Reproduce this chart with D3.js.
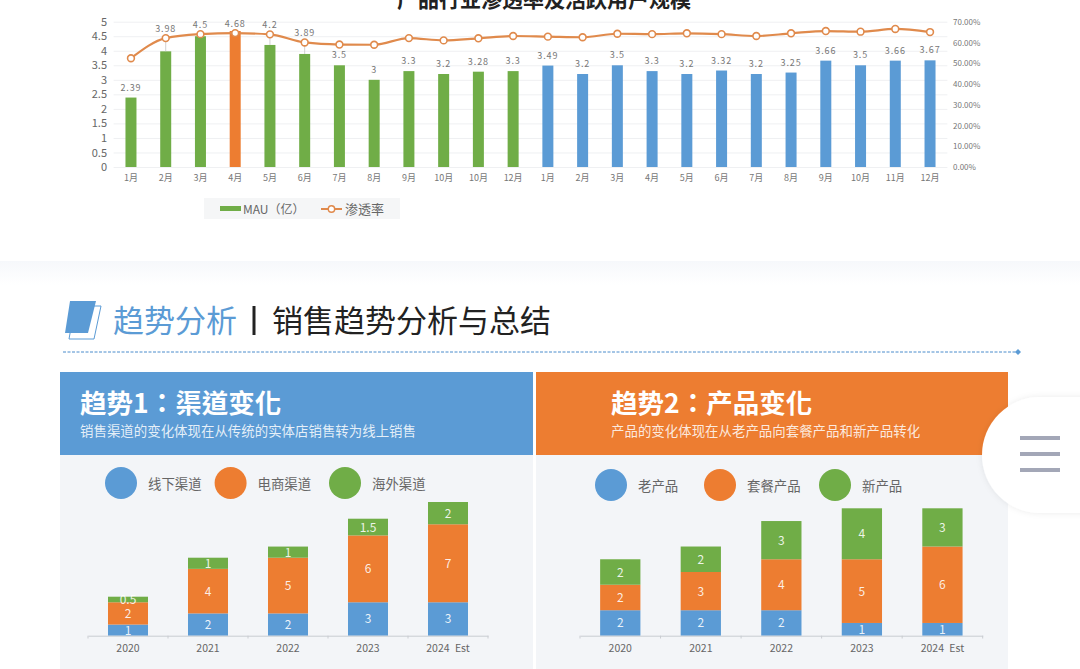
<!DOCTYPE html>
<html>
<head>
<meta charset="utf-8">
<script src="https://cdn.jsdelivr.net/npm/d3@7"></script>
<style>
  html, body { margin: 0; padding: 0; background: #fff; overflow: hidden; }
  svg { display: block; }
  text { font-family: "Noto Sans CJK SC", "Noto Sans", sans-serif; }
  .small-label { fill: #777; font-size: 9px; }
  .grid line { stroke: #eff0f2; }
  .grid path { display: none; }
</style>
</head>
<body>
<div id="chart"></div>
<script>
// top chart data
const months = ['1月','2月','3月','4月','5月','6月','7月','8月','9月','10月','10月','12月',
                '1月','2月','3月','4月','5月','6月','7月','8月','9月','10月','11月','12月'];
const mau = [2.39,3.98,4.5,4.68,4.2,3.89,3.5,3,3.3,3.2,3.28,3.3,
             3.49,3.2,3.5,3.3,3.2,3.32,3.2,3.25,3.66,3.5,3.66,3.67];
const penetration = [52.4,62.1,64,64.5,63.9,60,59,58.9,62.1,61,62,63.1,
                     62.8,62.5,64.2,64,64.4,64,63.1,64.4,65.5,65.2,66.5,65];
const leftTicks = [0,0.5,1,1.5,2,2.5,3,3.5,4,4.5,5];
const rightTicks = [0,10,20,30,40,50,60,70];

// stacked panels
const years = ['2020','2021','2022','2023','2024 Est'];
const offline = [1,2,2,3,3];
const ecommerce = [2,4,5,6,7];
const overseas = [0.5,1,1,1.5,2];
const oldProduct = [2,2,2,1,1];
const bundle = [2,3,4,5,6];
const newProduct = [2,2,3,4,3];

const BLUE = '#5b9bd5', ORANGE = '#ed7d31', GREEN = '#70ad47';

const svg = d3.select('#chart').append('svg').attr('width', 1080).attr('height', 669);

// faint band where the next section starts
const defs = svg.append('defs');
const fade = defs.append('linearGradient').attr('id', 'fade').attr('x2', 0).attr('y2', 1);
fade.append('stop').attr('offset', 0).attr('stop-color', '#f6f8fb');
fade.append('stop').attr('offset', 1).attr('stop-color', '#fff');
svg.append('rect').attr('y', 261).attr('width', 1080).attr('height', 24).attr('fill', 'url(#fade)');

// ---- top chart ----
const top0 = 167, top1 = 21.7;
const x = d3.scaleBand().domain(d3.range(months.length)).range([113.6, 947.4]);
const yLeft = d3.scaleLinear().domain([0, 5]).range([top0, top1]);
const yRight = d3.scaleLinear().domain([0, 70]).range([top0, top1]);
const xMid = i => x(i) + x.bandwidth() / 2;

svg.append('text')
  .attr('x', 544).attr('y', 7)
  .attr('text-anchor', 'middle')
  .attr('font-size', 21).attr('font-weight', 700).attr('fill', '#222')
  .text('产品行业渗透率及活跃用户规模');

svg.append('g').attr('class', 'grid')
  .attr('transform', 'translate(113.6,0)')
  .call(d3.axisLeft(yLeft).tickValues(leftTicks).tickSize(-833.8).tickFormat(''));

const leftAxis = svg.append('g')
  .attr('transform', 'translate(107,0)')
  .call(d3.axisLeft(yLeft).tickValues(leftTicks).tickSize(0).tickPadding(0).tickFormat(d3.format('~g')));
leftAxis.select('.domain').remove();
leftAxis.selectAll('text').attr('fill', '#666').attr('font-size', 11);

const rightAxis = svg.append('g')
  .attr('transform', 'translate(953,0)')
  .call(d3.axisRight(yRight).tickValues(rightTicks).tickSize(0).tickPadding(0).tickFormat(d => d.toFixed(2) + '%'));
rightAxis.select('.domain').remove();
rightAxis.selectAll('text').attr('fill', '#777').attr('font-size', 8);

const monthAxis = svg.append('g')
  .attr('transform', `translate(0,${top0})`)
  .call(d3.axisBottom(x).tickSize(0).tickPadding(8).tickFormat(i => months[i]));
monthAxis.select('.domain').remove();
monthAxis.selectAll('text').attr('class', 'small-label');

// green for the first year, April highlighted, blue for the second year
const barColor = i => i === 3 ? ORANGE : i < 12 ? GREEN : BLUE;
const barW = 11;

svg.append('g').selectAll('rect').data(mau).join('rect')
  .attr('x', (d, i) => xMid(i) - barW / 2)
  .attr('y', d => yLeft(d))
  .attr('width', barW)
  .attr('height', d => top0 - yLeft(d))
  .attr('fill', (d, i) => barColor(i));

// labels that would sit under the line get pushed above it, with a leader
const isLifted = i => yLeft(mau[i]) - 15 < yRight(penetration[i]) + 3;
const labelY = i => isLifted(i) ? yRight(penetration[i]) - 6 : yLeft(mau[i]) - 7;
const leaders = d3.range(mau.length).filter(i => isLifted(i) && yLeft(mau[i]) - yRight(penetration[i]) > 6);

svg.append('g').selectAll('line').data(leaders).join('line')
  .attr('x1', xMid).attr('x2', xMid)
  .attr('y1', i => yRight(penetration[i]))
  .attr('y2', i => yLeft(mau[i]))
  .attr('stroke', '#c4c4c4').attr('stroke-width', 0.8);

svg.append('path')
  .datum(penetration)
  .attr('fill', 'none').attr('stroke', '#e08a4c').attr('stroke-width', 2.2)
  .attr('d', d3.line().x((d, i) => xMid(i)).y(d => yRight(d)).curve(d3.curveMonotoneX));

svg.append('g').selectAll('circle').data(penetration).join('circle')
  .attr('cx', (d, i) => xMid(i)).attr('cy', d => yRight(d)).attr('r', 3.4)
  .attr('fill', '#fff').attr('stroke', '#e08a4c').attr('stroke-width', 1.6);

svg.append('g').selectAll('text').data(mau).join('text')
  .attr('class', 'small-label')
  .attr('x', (d, i) => xMid(i))
  .attr('y', (d, i) => labelY(i))
  .attr('text-anchor', 'middle')
  .attr('letter-spacing', 0.9)
  .text(d => d);

// legend of the top chart
svg.append('rect').attr('x', 204).attr('y', 198).attr('width', 196).attr('height', 21).attr('fill', '#f5f6f7');
svg.append('rect').attr('x', 220).attr('y', 206).attr('width', 21).attr('height', 5).attr('fill', GREEN);
svg.append('text').attr('x', 243).attr('y', 214).attr('font-size', 12).attr('fill', '#666').text('MAU（亿）');
svg.append('line').attr('x1', 321).attr('x2', 342).attr('y1', 209).attr('y2', 209).attr('stroke', '#e08a4c').attr('stroke-width', 2);
svg.append('circle').attr('cx', 331.5).attr('cy', 209).attr('r', 3.2).attr('fill', '#fff').attr('stroke', '#e08a4c').attr('stroke-width', 1.4);
svg.append('text').attr('x', 345).attr('y', 214).attr('font-size', 13).attr('fill', '#666').text('渗透率');

// ---- section heading ----
svg.append('path').attr('d', 'M75,306 H101 L94,339 H69 Z').attr('fill', '#fff').attr('stroke', BLUE).attr('stroke-width', 1);
svg.append('path').attr('d', 'M70,301 H96 L88,333 H65 Z').attr('fill', BLUE);
svg.append('text').attr('x', 113).attr('y', 332).attr('font-size', 31).attr('fill', BLUE).text('趋势分析');
svg.append('rect').attr('x', 252.5).attr('y', 306).attr('width', 3).attr('height', 29).attr('fill', '#222');
svg.append('text').attr('x', 272).attr('y', 332).attr('font-size', 31).attr('fill', '#222').text('销售趋势分析与总结');
svg.append('line').attr('x1', 63).attr('x2', 1018).attr('y1', 352).attr('y2', 352)
  .attr('stroke', '#4a8ccc').attr('stroke-width', 1).attr('stroke-dasharray', '3 1.5');
svg.append('path').attr('d', 'M1018,349 L1021,352 L1018,355 L1015,352 Z').attr('fill', BLUE);

// ---- two stacked panels ----
function drawPanel(p) {
  const g = svg.append('g');
  g.append('rect').attr('x', p.left).attr('y', 455).attr('width', p.width).attr('height', 214).attr('fill', '#f3f5f8');
  g.append('rect').attr('x', p.left).attr('y', 372).attr('width', p.width).attr('height', 83).attr('fill', p.headColor);
  // the TC face centres the colon in its cell, as the reference does
  g.append('text').attr('x', p.textX).attr('y', 413).attr('font-size', 26.5).attr('font-weight', 700)
    .style('font-family', '"Noto Sans CJK TC"').attr('fill', '#fff').text(p.title);
  g.append('text').attr('x', p.textX).attr('y', 436).attr('font-size', 13.45).attr('fill', '#fff').attr('fill-opacity', .85).text(p.subtitle);

  // legend circles
  const colors = [BLUE, ORANGE, GREEN];
  p.names.forEach((name, i) => {
    g.append('circle').attr('cx', p.legendX[i]).attr('cy', p.legendY).attr('r', 16).attr('fill', colors[i]);
    g.append('text').attr('x', p.legendX[i] + 27).attr('y', p.legendY + 5.5)
      .attr('font-size', 13.4).attr('fill', '#666').text(name);
  });

  const band = d3.scaleBand().domain(years).range(p.xRange);
  const y = d3.scaleLinear().domain([0, p.max]).range([635.7, p.topY]);
  const table = years.map((yr, i) => ({ year: yr, a: p.series[0][i], b: p.series[1][i], c: p.series[2][i] }));
  const stack = d3.stack().keys(['a', 'b', 'c'])(table);
  const barWidth = band.step() / 2;

  const layers = g.selectAll('.layer').data(stack).join('g').attr('class', 'layer');
  layers.append('g').selectAll('rect').data(d => d).join('rect')
    .attr('x', d => band(d.data.year) + (band.step() - barWidth) / 2)
    .attr('y', d => y(d[1]))
    .attr('width', barWidth)
    .attr('height', d => y(d[0]) - y(d[1]))
    .attr('fill', function () { return colors[stack.indexOf(d3.select(this.parentNode).datum())]; });
  layers.append('g').selectAll('text').data(d => d).join('text')
    .attr('x', d => band(d.data.year) + band.step() / 2)
    .attr('y', d => (y(d[0]) + y(d[1])) / 2 + 4.5)
    .attr('text-anchor', 'middle')
    .attr('font-size', 12).attr('fill', '#fff').attr('fill-opacity', .88)
    .text(d => d3.format('~g')(d[1] - d[0]));

  const axis = g.append('g').attr('transform', 'translate(0,635.7)')
    .call(d3.axisBottom(band).tickSize(0).tickPadding(9).tickSizeOuter(0));
  axis.select('.domain').attr('stroke', '#c9ccd1');
  axis.selectAll('text').attr('font-size', 10.5).attr('fill', '#666').attr('word-spacing', 3);
  // ticks sit between the categories
  g.append('g').selectAll('line').data(d3.range(years.length + 1)).join('line')
    .attr('x1', i => p.xRange[0] + i * band.step()).attr('x2', i => p.xRange[0] + i * band.step())
    .attr('y1', 635.7).attr('y2', 638.5)
    .attr('stroke', '#c9ccd1');
}

drawPanel({
  left: 60, width: 473, headColor: BLUE, textX: 80,
  title: '趋势1：渠道变化',
  subtitle: '销售渠道的变化体现在从传统的实体店销售转为线上销售',
  names: ['线下渠道', '电商渠道', '海外渠道'],
  legendX: [121, 230.6, 345], legendY: 483,
  series: [offline, ecommerce, overseas],
  max: 12, topY: 502, xRange: [88, 488]
});

drawPanel({
  left: 536, width: 472, headColor: ORANGE, textX: 611,
  title: '趋势2：产品变化',
  subtitle: '产品的变化体现在从老产品向套餐产品和新产品转化',
  names: ['老产品', '套餐产品', '新产品'],
  legendX: [611, 720, 835], legendY: 485,
  series: [oldProduct, bundle, newProduct],
  max: 10, topY: 508.3, xRange: [580, 982.7]
});

// floating menu button on the right edge
const shadow = defs.append('filter').attr('id', 'soft').attr('x', '-20%').attr('y', '-20%').attr('width', '140%').attr('height', '140%');
shadow.append('feDropShadow').attr('dx', 0).attr('dy', 0).attr('stdDeviation', 3).attr('flood-color', '#000').attr('flood-opacity', .08);
svg.append('rect').attr('x', 982).attr('y', 397).attr('width', 160).attr('height', 116).attr('rx', 58)
  .attr('fill', '#fff').attr('filter', 'url(#soft)');
[438, 454, 470].forEach(yy => {
  svg.append('line').attr('x1', 1020).attr('x2', 1060).attr('y1', yy).attr('y2', yy)
    .attr('stroke', '#a3a7b7').attr('stroke-width', 4);
});
</script>
</body>
</html>
